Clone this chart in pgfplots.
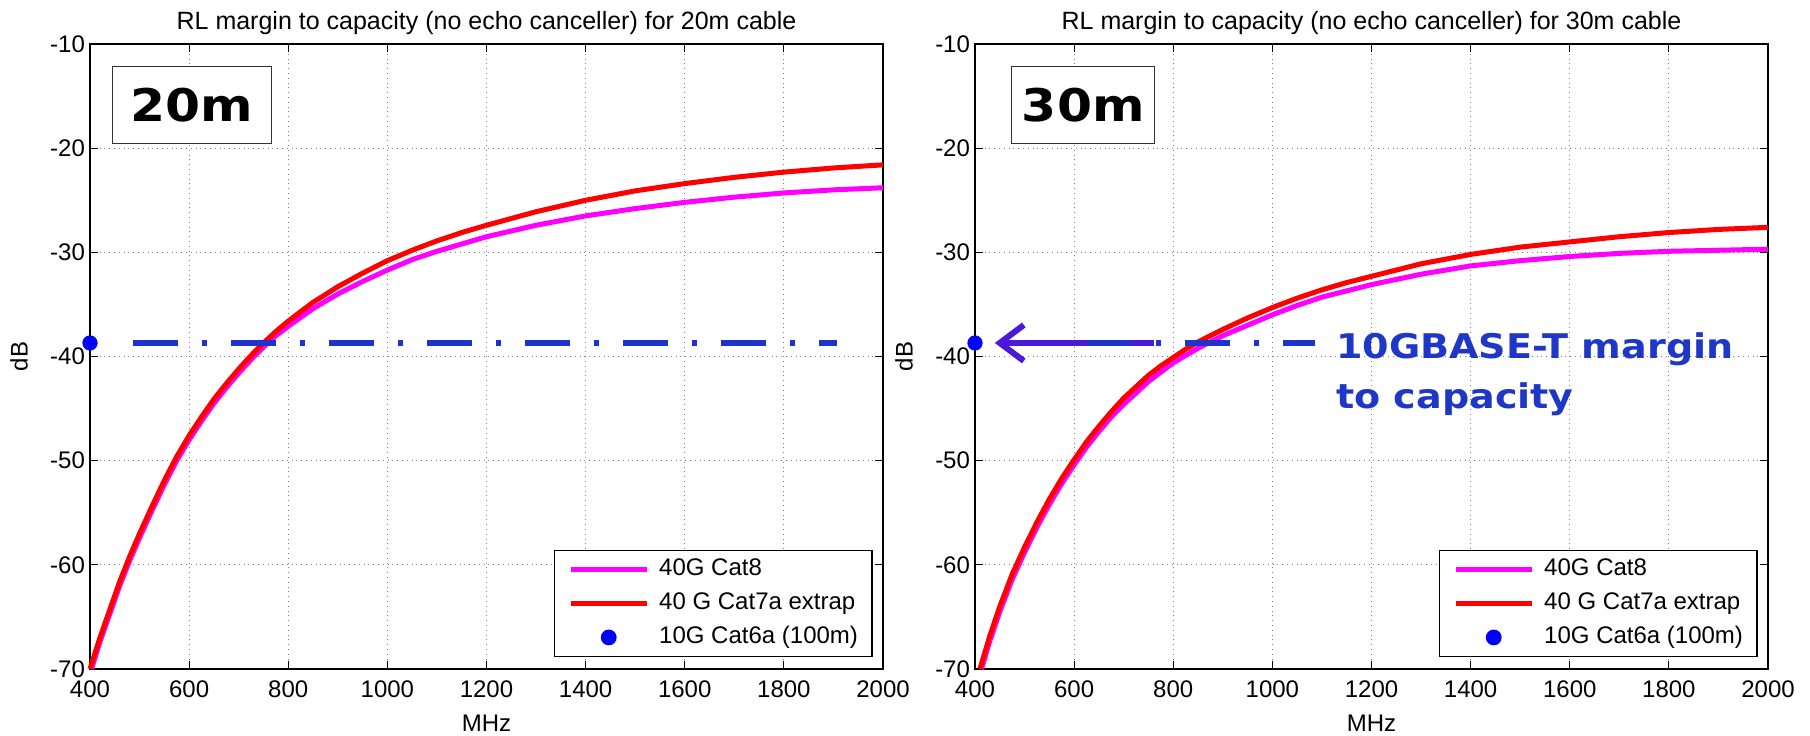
\documentclass[border=0pt]{standalone}
\usepackage{fontspec}
\setmainfont{Liberation Sans}
\newfontfamily\heavyfont[FakeStretch=1.12]{DejaVu Sans Bold}
\usepackage{pgfplots}
\pgfplotsset{compat=1.18}
\usetikzlibrary{arrows.meta}
\definecolor{cmag}{RGB}{255,0,255}
\definecolor{cred}{RGB}{255,0,0}
\definecolor{cpt}{RGB}{0,0,255}
\definecolor{cdash}{RGB}{30,50,205}
\definecolor{carrow}{RGB}{75,25,220}
\definecolor{ctxt}{RGB}{30,55,200}
\pgfplotsset{
  myax/.style={
    width=396.5pt, height=312.5pt, scale only axis,
    xmin=400, xmax=2000, ymin=-70, ymax=-10,
    xtick={400,600,...,2000}, ytick={-70,-60,...,-10},
    grid=major,
    major grid style={gray, dotted, line width=0.5pt},
    tick align=inside, major tick length=4pt,
    every tick/.style={black, line width=0.6pt},
    axis line style={line width=1pt},
    ticklabel style={font=\fontsize{12}{14}\selectfont},
    /pgf/number format/assume math mode=true,
    /pgf/number format/1000 sep={},
    xticklabel style={yshift=-2.5pt},
    yticklabel style={xshift=1pt},
    xlabel={MHz}, ylabel={dB},
    every axis x label/.style={at={(axis description cs:0.5,-0.0864)}, anchor=center, font=\fontsize{12}{14}\selectfont},
    every axis y label/.style={at={(axis description cs:-0.0895,0.5)}, anchor=center, rotate=90, font=\fontsize{12}{14}\selectfont},
    every axis title/.style={at={(axis description cs:0.5,1)}, anchor=base, yshift=7.5pt, font=\fontsize{12.5}{14}\selectfont},
    clip=false,
    legend cell align=left,
    legend image code/.code={\draw[mark repeat=2,mark phase=2,##1] plot coordinates {(0pt,0pt) (19pt,0pt) (38pt,0pt)}; \path (43pt,0pt);},
    legend style={at={(axis description cs:0.987,0.019)}, anchor=south east,
      draw=black, line width=0.7pt, font=\fontsize{12}{14}\selectfont,
      inner xsep=7pt, inner ysep=3.5pt, row sep=5pt,
      nodes={inner sep=0pt, text height=8.8pt, text depth=3.2pt}},
  },
}
\pgfplotstableread{
x y
403 -70
420 -67.4
440 -64.7
460 -62.0
480 -59.6
500 -57.4
525 -54.8
550 -52.3
575 -50.0
600 -48.0
625 -46.2
650 -44.5
675 -43.0
700 -41.6
725 -40.3
750 -39.1
775 -38.0
800 -37.1
850 -35.4
900 -34.0
950 -32.8
1000 -31.7
1050 -30.7
1100 -29.9
1150 -29.2
1200 -28.5
1300 -27.4
1400 -26.5
1500 -25.8
1600 -25.2
1700 -24.7
1800 -24.3
1900 -24.0
2000 -23.8
}\magA
\pgfplotstableread{
x y
400 -70
420 -67
440 -64.3
460 -61.6
480 -59.2
500 -57.0
525 -54.4
550 -51.9
575 -49.6
600 -47.6
625 -45.8
650 -44.1
675 -42.6
700 -41.2
725 -39.9
750 -38.7
775 -37.6
800 -36.6
850 -34.8
900 -33.3
950 -32.0
1000 -30.8
1050 -29.8
1100 -28.9
1150 -28.1
1200 -27.4
1300 -26.1
1400 -25.0
1500 -24.1
1600 -23.4
1700 -22.8
1800 -22.3
1900 -21.9
2000 -21.6
}\redA
\pgfplotstableread{
x y
413 -70
430 -67.3
450 -64.5
475 -61.4
500 -58.8
525 -56.4
550 -54.2
575 -52.2
600 -50.4
625 -48.7
650 -47.2
675 -45.8
700 -44.6
725 -43.5
750 -42.4
775 -41.5
800 -40.6
825 -39.9
850 -39.2
875 -38.6
900 -38.0
950 -37.0
1000 -36.0
1050 -35.1
1100 -34.3
1150 -33.7
1200 -33.1
1300 -32.1
1400 -31.3
1500 -30.8
1600 -30.4
1700 -30.1
1800 -29.9
1900 -29.8
2000 -29.7
}\magB
\pgfplotstableread{
x y
410 -70
430 -66.8
450 -64.0
475 -60.9
500 -58.3
525 -55.9
550 -53.7
575 -51.7
600 -49.9
625 -48.2
650 -46.7
675 -45.3
700 -44.0
725 -42.9
750 -41.8
775 -40.9
800 -40.1
825 -39.3
850 -38.6
875 -38.0
900 -37.4
950 -36.3
1000 -35.3
1050 -34.4
1100 -33.6
1150 -32.9
1200 -32.3
1300 -31.1
1400 -30.2
1500 -29.5
1600 -29.0
1700 -28.5
1800 -28.1
1900 -27.8
2000 -27.6
}\redB
\begin{document}
\begin{tikzpicture}
\useasboundingbox (0,0) rectangle (905pt,367.5pt);
% ---------------- left: 20m
\begin{axis}[myax, at={(45pt,33pt)}, anchor=south west,
  title={RL margin to capacity (no echo canceller) for 20m cable}]
\addplot[cmag, line width=2.5pt, line join=round] table {\magA};
\addlegendentry{40G Cat8}
\addplot[cred, line width=2.5pt, line join=round] table {\redA};
\addlegendentry{40 G Cat7a extrap}
\addplot[only marks, mark=*, mark size=3.6pt, cpt] coordinates {(400,-38.7)};
\addlegendentry{10G Cat6a (100m)}
\addplot[forget plot, cdash, line width=3pt, dash pattern=on 22.5pt off 12pt on 2.5pt off 12pt] coordinates {(487,-38.7) (1907,-38.7)};
\node[draw=black!80, line width=0.6pt, fill=white, minimum width=79.5pt, minimum height=38.5pt, anchor=north west, inner sep=0pt, font=\heavyfont\fontsize{22.5}{24}\selectfont] at (axis cs:444,-12.1) {20m};
\end{axis}
% ---------------- right: 30m
\begin{axis}[myax, at={(487.5pt,33pt)}, anchor=south west,
  title={RL margin to capacity (no echo canceller) for 30m cable}]
\addplot[cmag, line width=2.5pt, line join=round] table {\magB};
\addlegendentry{40G Cat8}
\addplot[cred, line width=2.5pt, line join=round] table {\redB};
\addlegendentry{40 G Cat7a extrap}
\addplot[only marks, mark=*, mark size=3.6pt, cpt] coordinates {(400,-38.7)};
\addlegendentry{10G Cat6a (100m)}
\addplot[forget plot, carrow, line width=3pt, -{Straight Barb[length=12pt, width=18pt]}] coordinates {(761,-38.7) (440,-38.7)};
\addplot[forget plot, cdash, line width=3pt, dash pattern=on 22.5pt off 12pt on 2.5pt off 12pt] coordinates {(626,-38.7) (1086,-38.7)};
\node[draw=black!80, line width=0.6pt, fill=white, minimum width=71.5pt, minimum height=38.5pt, anchor=north west, inner sep=0pt, font=\heavyfont\fontsize{22.5}{24}\selectfont] at (axis cs:473,-12.1) {30m};
\node[anchor=north west, inner sep=0pt, align=left, text=ctxt, font=\heavyfont\fontsize{17}{25}\selectfont] at (axis cs:1128,-37.7) {10GBASE-T margin\\to capacity};
\end{axis}
\end{tikzpicture}
\end{document}
